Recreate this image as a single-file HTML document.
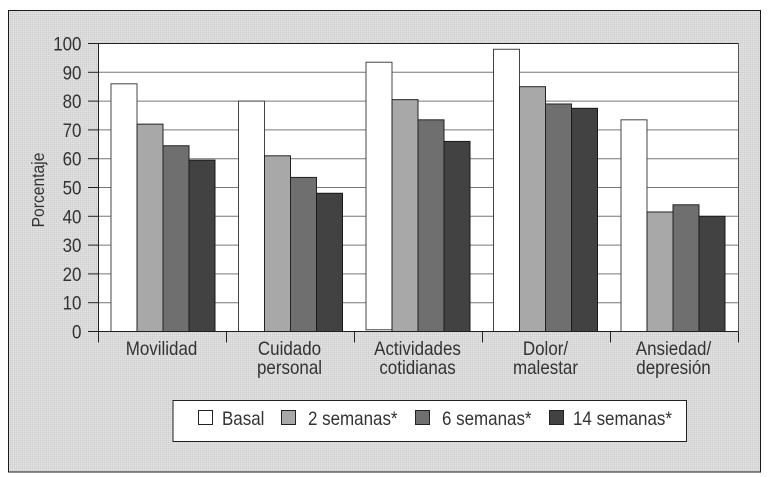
<!DOCTYPE html>
<html lang="es">
<head>
<meta charset="utf-8">
<title>Porcentaje por dimensión</title>
<style>
html,body{margin:0;padding:0;background:#fff;width:769px;height:477px;overflow:hidden}
svg{display:block;font-family:"Liberation Sans",sans-serif}
text{fill:#333}
</style>
</head>
<body>
<svg id="chart" xmlns="http://www.w3.org/2000/svg" width="769" height="477" viewBox="0 0 769 477">
  <defs>
    <pattern id="dither" width="2" height="2" patternUnits="userSpaceOnUse">
      <rect width="2" height="2" fill="#dadada"/>
      <rect width="1" height="1" fill="#cfcfcf"/>
      <rect x="1" y="1" width="1" height="1" fill="#e2e2e2"/>
    </pattern>
  </defs>
  <rect x="8.5" y="10.5" width="752" height="461.5" fill="url(#dither)" stroke="#1a1a1a" stroke-width="1"/>
  <rect x="98.5" y="43.5" width="640" height="288" fill="#fff"/>
  <g id="grid"></g>
  <g id="bars"></g>
  <g id="axes"></g>
  <text transform="translate(44 190) rotate(-90) scale(0.87 1)" text-anchor="middle" font-size="18">Porcentaje</text>
  <g>
    <rect x="173" y="400.5" width="513.5" height="41" fill="#fff" stroke="#222" stroke-width="1"/>
    <g id="legend-items"></g>
  </g>
</svg>
<script>
const categories = [["Movilidad"], ["Cuidado", "personal"], ["Actividades", "cotidianas"], ["Dolor/", "malestar"], ["Ansiedad/", "depresión"]];
const seriesNames = ["Basal", "2 semanas*", "6 semanas*", "14 semanas*"];
const basal = [86, 80, 93.5, 98, 73.5];
const semanas2 = [72, 61, 80.5, 85, 41.5];
const semanas6 = [64.5, 53.5, 73.5, 79, 44];
const semanas14 = [59.5, 48, 66, 77.5, 40];
const basalFloor = [0, 0, 0.6, 0, 0];
const yTicks = [0, 10, 20, 30, 40, 50, 60, 70, 80, 90, 100];

const allSeries = [basal, semanas2, semanas6, semanas14];
const fills = ["#ffffff", "#a8a8a8", "#6f6f6f", "#424242"];
const strokes = ["#444444", "#222222", "#222222", "#1a1a1a"];
const NS = "http://www.w3.org/2000/svg";
const plotLeft = 98.5, plotRight = 738.5, plotTop = 43.5, plotBottom = 331.5;
const bandW = (plotRight - plotLeft) / categories.length;
const barW = 26;
const textScale = 0.87;
const fontSize = 19.5;
const yMax = yTicks[yTicks.length - 1];
function yScale(v) { return plotBottom - (v / yMax) * (plotBottom - plotTop); }
function xBand(i) { return plotLeft + i * bandW; }
function xBar(i, s) { return 111 + i * 127.5 + s * barW; }
function make(tag, attrs, parent) {
  const el = document.createElementNS(NS, tag);
  for (const k in attrs) el.setAttribute(k, attrs[k]);
  parent.appendChild(el);
  return el;
}
function place(x, y) { return "translate(" + x + " " + y + ") scale(" + textScale + " 1)"; }
const gridG = document.getElementById("grid");
const barsG = document.getElementById("bars");
const axesG = document.getElementById("axes");
const legendG = document.getElementById("legend-items");

yTicks.forEach(function (t) {
  const y = yScale(t);
  if (t > 0 && t < yMax) {
    const g = make("line", { x1: plotLeft, x2: plotRight, y1: y, y2: y, stroke: "#777", "stroke-width": 1 }, gridG);
    
    
  }
  const tick = make("line", { x1: 88, x2: plotLeft, y1: y, y2: y, stroke: "#222", "stroke-width": 1 }, axesG);
  
  
  const label = make("text", { transform: place(81.5, y + 7), "text-anchor": "end", "font-size": fontSize }, axesG);
  label.textContent = t;
  
  
});

allSeries.forEach(function (values, s) {
  values.forEach(function (v, i) {
    const top = yScale(v);
    const floor = s === 0 ? yScale(basalFloor[i]) : plotBottom;
    const r = make("rect", { x: xBar(i, s), y: top, width: barW, height: floor - top, fill: fills[s], stroke: strokes[s], "stroke-width": 1 }, barsG);
    
    
  });
});

const axisX = make("line", { x1: plotLeft, x2: plotRight, y1: plotBottom, y2: plotBottom, stroke: "#222", "stroke-width": 1 }, axesG);


const axisY = make("line", { x1: plotLeft, x2: plotLeft, y1: plotTop, y2: plotBottom, stroke: "#222", "stroke-width": 1 }, axesG);


const topLine = make("line", { x1: plotLeft, x2: plotRight, y1: plotTop, y2: plotTop, stroke: "#222", "stroke-width": 1 }, axesG);


const rightLine = make("line", { x1: plotRight, x2: plotRight, y1: plotTop, y2: plotBottom, stroke: "#555", "stroke-width": 1 }, axesG);



for (let i = 0; i <= categories.length; i++) {
  const x = xBand(i);
  const tk = make("line", { x1: x, x2: x, y1: plotBottom, y2: 342.5, stroke: "#222", "stroke-width": 1 }, axesG);
  
  
}
categories.forEach(function (lines, i) {
  lines.forEach(function (line, j) {
    const t = make("text", { transform: place(xBand(i) + bandW / 2 - 1, 355 + j * 19), "text-anchor": "middle", "font-size": fontSize }, axesG);
    t.textContent = line;
    
    
  });
});

const legendLayout = [[198, 222], [281, 308], [415, 442], [549, 573]];
seriesNames.forEach(function (name, s) {
  const sw = make("rect", { x: legendLayout[s][0] + 0.5, y: 410.5, width: 14, height: 14, fill: fills[s], stroke: "#222", "stroke-width": 1 }, legendG);
  
  
  const t = make("text", { transform: place(legendLayout[s][1], 425), "font-size": fontSize }, legendG);
  t.textContent = name;
  
  
});
</script>
</body>
</html>
